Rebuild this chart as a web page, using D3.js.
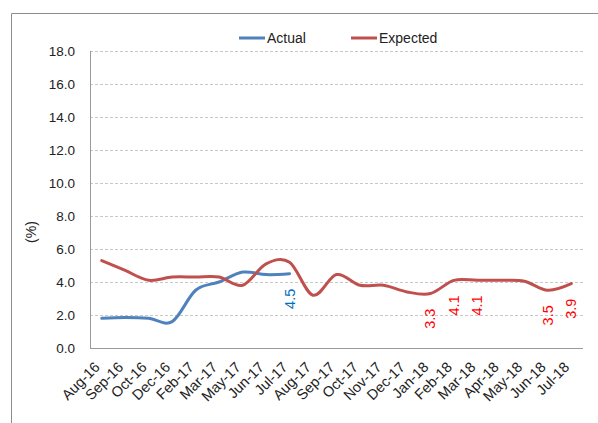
<!DOCTYPE html>
<html><head><meta charset="utf-8">
<script src="https://cdn.jsdelivr.net/npm/d3@7"></script>
<style>body{margin:0;background:#fff;} svg{display:block;} text{font-family:"Liberation Sans",Arial,sans-serif;}</style>
</head><body>
<svg id="c" width="598" height="423"></svg>
<script>
const categories = ["Aug-16","Sep-16","Oct-16","Dec-16","Feb-17","Mar-17","May-17","Jun-17","Jul-17","Aug-17","Sep-17","Oct-17","Nov-17","Dec-17","Jan-18","Feb-18","Mar-18","Apr-18","May-18","Jun-18","Jul-18"];
const actual = [1.8,1.85,1.8,1.6,3.5,4.0,4.6,4.45,4.5,null,null,null,null,null,null,null,null,null,null,null,null];
const expected = [5.3,4.7,4.1,4.3,4.3,4.3,3.8,5.1,5.2,3.2,4.45,3.8,3.8,3.4,3.3,4.1,4.1,4.1,4.05,3.5,3.9];
const actualLabels = [{cat:"Jul-17", text:"4.5"}];
const expectedLabels = [{cat:"Jan-18",text:"3.3"},{cat:"Feb-18",text:"4.1"},{cat:"Mar-18",text:"4.1"},{cat:"Jun-18",text:"3.5"},{cat:"Jul-18",text:"3.9"}];
const yTicks = [0,2,4,6,8,10,12,14,16,18];
const seriesNames = ["Actual","Expected"];
const colors = ["#4F81BD","#C0504D"];

const svg = d3.select("#c");
const L=90, R=583, T=51, B=348;
const x = d3.scaleBand().domain(categories).range([L,R]).padding(0);
const y = d3.scaleLinear().domain([0,18]).range([B,T]);
const cx = c => x(c)+x.bandwidth()/2;

// outer border
svg.append("path").attr("d",`M11.5,430 V13.5 H610`).attr("fill","none").attr("stroke","#8c8c8c").attr("stroke-width",1);

// gridlines
svg.append("g").selectAll("line").data(yTicks.filter(t=>t>0)).join("line")
  .attr("x1",L).attr("x2",R).attr("y1",d=>Math.round(y(d))+0.5).attr("y2",d=>Math.round(y(d))+0.5)
  .attr("stroke","#c8c8c8").attr("stroke-dasharray","3,2").attr("stroke-width",1);

// y axis
const ya = svg.append("g").attr("transform",`translate(${L},0)`).call(d3.axisLeft(y).tickValues(yTicks).tickFormat(d3.format(".1f")).tickSize(0).tickPadding(15));
ya.select(".domain").attr("stroke","#9a9a9a").attr("d",`M0.5,${T}V${B}`);
ya.selectAll("text").attr("font-size","13.5px").attr("fill","#222").attr("font-family","Liberation Sans, Arial, sans-serif");

// x axis
const xa = svg.append("g").attr("transform",`translate(0,${B})`).call(d3.axisBottom(x).tickSize(0).tickPadding(0));
xa.select(".domain").attr("stroke","#9a9a9a").attr("d",`M${L},0.5H${R}`);
xa.selectAll("text").attr("font-size","14.5px").attr("fill","#222").attr("font-family","Liberation Sans, Arial, sans-serif")
  .attr("text-anchor","end").attr("dy",null).attr("y",null)
  .attr("transform","translate(-1,20) rotate(-45)");

// y title
svg.append("text").attr("transform","translate(36,232) rotate(-90)").attr("text-anchor","middle")
  .attr("font-size","14px").attr("fill","#222").text("(%)");

const line = d3.line().defined(d=>d.v!=null).x(d=>cx(d.c)).y(d=>y(d.v)).curve(d3.curveCatmullRom.alpha(0));
[actual, expected].forEach((vals,i)=>{
  svg.append("path").datum(categories.map((c,j)=>({c, v:vals[j]})))
    .attr("d",line).attr("fill","none").attr("stroke",colors[i]).attr("stroke-width",3).attr("stroke-linecap","round");
});

// data labels
function addLabels(labels, vals, color){
  svg.append("g").selectAll("text").data(labels).join("text")
    .attr("transform",d=>{const j=categories.indexOf(d.cat); return `translate(${cx(d.cat)},${y(vals[j])+15}) rotate(-90)`;})
    .attr("text-anchor","end").attr("dy","0.35em").attr("font-size","14.5px").attr("fill",color).text(d=>d.text);
}
addLabels(actualLabels, actual, "#0070C0");
addLabels(expectedLabels, expected, "#FF0000");

// legend
const leg = [{x:239},{x:351}];
seriesNames.forEach((n,i)=>{
  const g = svg.append("g");
  g.append("line").attr("x1",leg[i].x).attr("x2",leg[i].x+26).attr("y1",38).attr("y2",38).attr("stroke",colors[i]).attr("stroke-width",3);
  g.append("text").attr("x",leg[i].x+28).attr("y",38).attr("dy","0.35em").attr("font-size","14px").attr("fill","#222").text(n);
});
</script>
</body></html>
